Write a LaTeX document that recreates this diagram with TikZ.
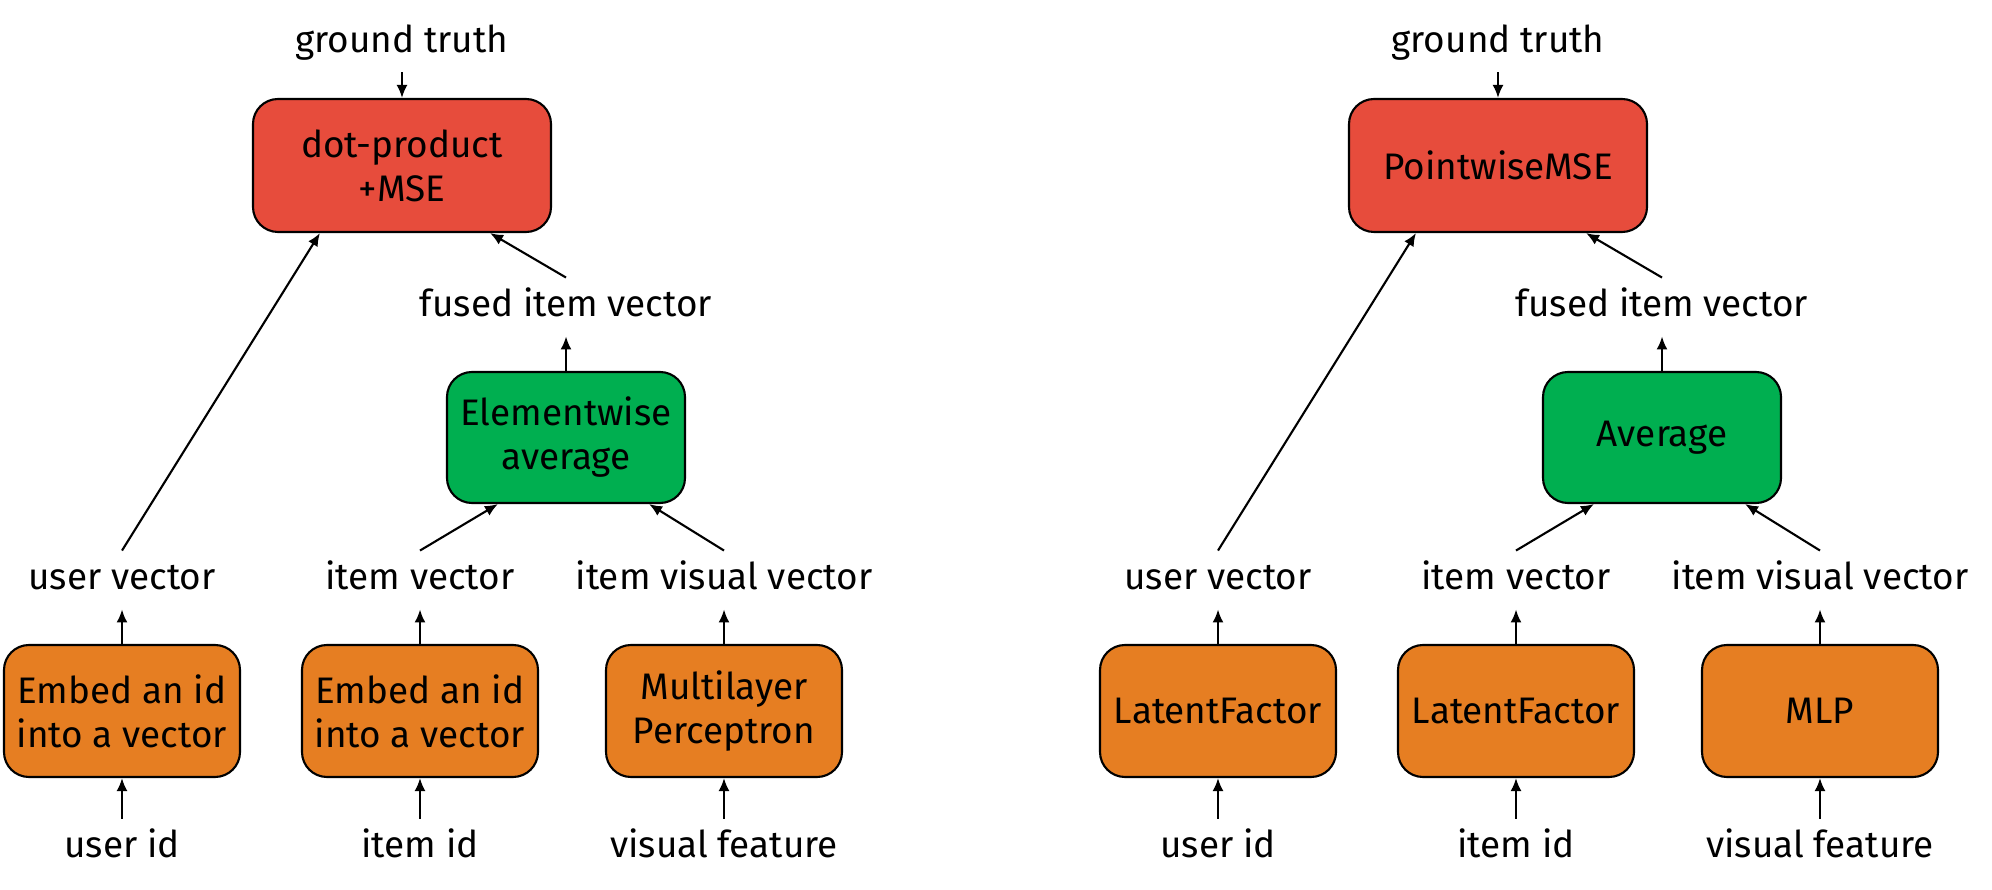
\documentclass[tikz,border=0pt]{standalone}
\usepackage{fontspec}
\setmainfont{Fira Sans}
\usetikzlibrary{arrows.meta}

\definecolor{lossred}{HTML}{E74C3C}
\definecolor{fusegreen}{HTML}{00AF50}
\definecolor{embedorange}{HTML}{E67E22}

\begin{document}
\begin{tikzpicture}[
  font=\fontsize{10.5}{12.5}\selectfont,
  >={Latex[length=1.3mm, width=1.1mm]},
  every path/.append style={line width=0.6pt},
  lbl/.style={text height=0.75em, text depth=0.2em, inner sep=0.333em},
  block/.style={draw, rounded corners=2.5mm, align=center, minimum width=2.38cm, minimum height=1.32cm},
  loss/.style={block, fill=lossred, minimum width=2.98cm, minimum height=1.33cm},
  fuse/.style={block, fill=fusegreen, minimum height=1.31cm},
  embed/.style={block, fill=embedorange, minimum width=2.36cm}
]

\useasboundingbox (0, 0) rectangle (19.92, 8.89);

% left: the written-out version
\node[lbl] (gtL) at (4.02, 8.46) {ground truth};
\node[loss] (lossL) at (4.02, 7.235) {dot-product\\+MSE};
\node[lbl] (fusedL) at (5.66, 5.82) {fused item vector};
\node[fuse] (avgL) at (5.66, 4.515) {Elementwise\\average};

\node[lbl] (uvecL) at (1.22, 3.09) {user vector};
\node[lbl] (ivecL) at (4.20, 3.09) {item vector};
\node[lbl] (vvecL) at (7.24, 3.09) {item visual vector};

\node[embed] (uembL) at (1.22, 1.78) {Embed an id\\into a vector};
\node[embed] (iembL) at (4.20, 1.78) {Embed an id\\into a vector};
\node[embed] (mlpL) at (7.24, 1.78) {Multilayer\\Perceptron};

\node[lbl] (uidL) at (1.22, 0.41) {user id};
\node[lbl] (iidL) at (4.20, 0.41) {item id};
\node[lbl] (visL) at (7.24, 0.41) {visual feature};

\draw [->] (gtL) -- (lossL);
\draw [->] (uvecL.north) -- ([xshift=6.8mm]lossL.south west);
\draw [->] (fusedL.north) -- ([xshift=-6.2mm]lossL.south east);
\draw [->] (avgL) -- (fusedL);
\draw [->] (ivecL.north) -- ([xshift=5.2mm]avgL.south west);
\draw [->] (vvecL.north) -- ([xshift=-3.7mm]avgL.south east);

\draw [->] (uembL) -- (uvecL);
\draw [->] (iembL) -- (ivecL);
\draw [->] (mlpL) -- (vvecL);
\draw [->] (uidL) -- (uembL);
\draw [->] (iidL) -- (iembL);
\draw [->] (visL) -- (mlpL);

% right: the same with module names
\node[lbl] (gtR) at (14.98, 8.46) {ground truth};
\node[loss] (lossR) at (14.98, 7.235) {PointwiseMSE};
\node[lbl] (fusedR) at (16.62, 5.82) {fused item vector};
\node[fuse] (avgR) at (16.62, 4.515) {Average};

\node[lbl] (uvecR) at (12.18, 3.09) {user vector};
\node[lbl] (ivecR) at (15.16, 3.09) {item vector};
\node[lbl] (vvecR) at (18.20, 3.09) {item visual vector};

\node[embed] (uembR) at (12.18, 1.78) {LatentFactor};
\node[embed] (iembR) at (15.16, 1.78) {LatentFactor};
\node[embed] (mlpR) at (18.20, 1.78) {MLP};

\node[lbl] (uidR) at (12.18, 0.41) {user id};
\node[lbl] (iidR) at (15.16, 0.41) {item id};
\node[lbl] (visR) at (18.20, 0.41) {visual feature};

\draw [->] (gtR) -- (lossR);
\draw [->] (uvecR.north) -- ([xshift=6.8mm]lossR.south west);
\draw [->] (fusedR.north) -- ([xshift=-6.2mm]lossR.south east);
\draw [->] (avgR) -- (fusedR);
\draw [->] (ivecR.north) -- ([xshift=5.2mm]avgR.south west);
\draw [->] (vvecR.north) -- ([xshift=-3.7mm]avgR.south east);

\draw [->] (uembR) -- (uvecR);
\draw [->] (iembR) -- (ivecR);
\draw [->] (mlpR) -- (vvecR);
\draw [->] (uidR) -- (uembR);
\draw [->] (iidR) -- (iembR);
\draw [->] (visR) -- (mlpR);

\end{tikzpicture}
\end{document}
